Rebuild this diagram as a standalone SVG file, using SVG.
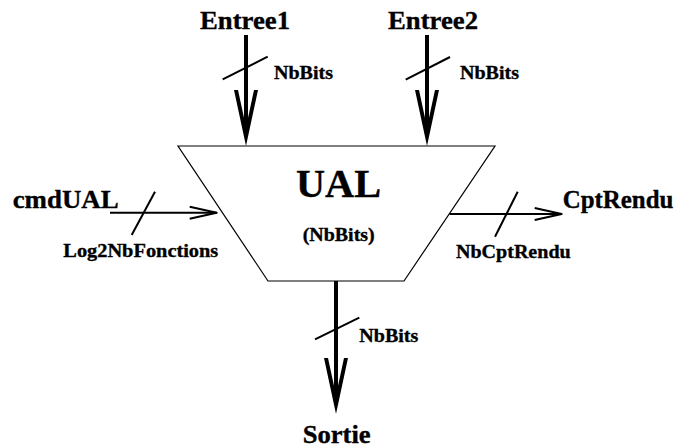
<svg xmlns="http://www.w3.org/2000/svg" width="685" height="448" viewBox="0 0 685 448">
<style>
text{font-family:"Liberation Serif","Times New Roman",serif;font-weight:bold;fill:#000;stroke:#000;stroke-width:0.35}
.big{font-size:26px}
.sm{font-size:19px}
.bus{stroke:#000;stroke-width:4;fill:none}
.thin{stroke:#000;stroke-width:2;fill:none}
.slash{stroke:#000;stroke-width:2;fill:none}
.box{stroke:#000;stroke-width:1.2;fill:#fff}
</style>
<defs>
<marker id="big" markerUnits="userSpaceOnUse" markerWidth="60" markerHeight="26" refX="41" refY="12" orient="auto" overflow="visible">
<path d="M0,0 L56,12 L0,24 L0,20 L37.3,12 L0,4 Z" fill="#000"/>
</marker>
<marker id="small" markerUnits="userSpaceOnUse" markerWidth="30" markerHeight="14" refX="27" refY="6" orient="auto" overflow="visible">
<path d="M0,0 L27,6 L0,12" fill="none" stroke="#000" stroke-width="2" stroke-linejoin="round"/>
</marker>
</defs>
<g id="ual">
<polygon class="box" points="178,146 495,146 404,281 268,281"/>
<text x="296" y="196.7" style="font-size:40px" textLength="85" lengthAdjust="spacingAndGlyphs">UAL</text>
<text class="sm" x="302.7" y="241" textLength="72" lengthAdjust="spacingAndGlyphs">(NbBits)</text>
</g>
<g id="entree1">
<text class="big" x="200" y="29" textLength="90" lengthAdjust="spacingAndGlyphs">Entree1</text>
</g>
<g id="entree2">
<text class="big" x="388" y="29" textLength="90" lengthAdjust="spacingAndGlyphs">Entree2</text>
</g>
<g id="cmdual">
<text class="big" x="12.7" y="208.3" textLength="106" lengthAdjust="spacingAndGlyphs">cmdUAL</text>
</g>
<g id="cptrendu">
<text class="big" x="562.7" y="208.3" textLength="110.7" lengthAdjust="spacingAndGlyphs">CptRendu</text>
</g>
<g id="sortie">
<text class="big" x="302.7" y="443.3" textLength="68" lengthAdjust="spacingAndGlyphs">Sortie</text>
</g>
<g id="connectors">
<line class="bus" x1="246" y1="35" x2="246" y2="131" marker-end="url(#big)"/>
<line class="slash" x1="222.7" y1="79.3" x2="267.7" y2="56.7"/>
<text class="sm" x="274" y="78.7" textLength="59" lengthAdjust="spacingAndGlyphs">NbBits</text>

<line class="bus" x1="427" y1="35" x2="427" y2="131" marker-end="url(#big)"/>
<line class="slash" x1="405.7" y1="79.7" x2="450" y2="57"/>
<text class="sm" x="460" y="78.7" textLength="59" lengthAdjust="spacingAndGlyphs">NbBits</text>

<line class="thin" x1="110" y1="212.7" x2="216.7" y2="212.7" marker-end="url(#small)"/>
<line class="slash" x1="131.7" y1="235" x2="155" y2="191.7"/>
<text class="sm" x="63.3" y="257.3" textLength="155" lengthAdjust="spacingAndGlyphs">Log2NbFonctions</text>

<line class="thin" x1="449.5" y1="214" x2="561.7" y2="214" marker-end="url(#small)"/>
<line class="slash" x1="495" y1="236.7" x2="517.7" y2="191.7"/>
<text class="sm" x="456" y="258.3" textLength="114.7" lengthAdjust="spacingAndGlyphs">NbCptRendu</text>

<line class="bus" x1="336" y1="281" x2="336" y2="399" marker-end="url(#big)"/>
<line class="slash" x1="315" y1="339.3" x2="359.3" y2="317.7"/>
<text class="sm" x="359.3" y="342.3" textLength="59" lengthAdjust="spacingAndGlyphs">NbBits</text>
</g>
</svg>
